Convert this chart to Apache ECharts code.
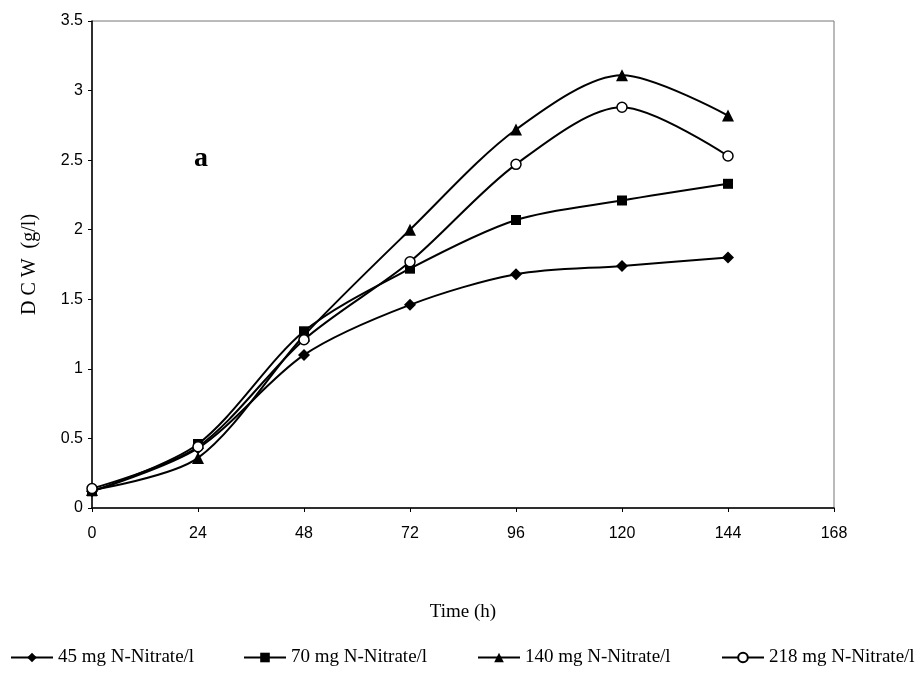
<!DOCTYPE html>
<html><head><meta charset="utf-8">
<script src="https://cdn.jsdelivr.net/npm/echarts@6/dist/echarts.min.js"></script>
<style>html,body{margin:0;padding:0;background:#fff}#c{width:920px;height:677px}</style>
</head><body><div id="c"></div>
<script>
var hours = [0, 24, 48, 72, 96, 120, 144];
var xTicks = [0, 24, 48, 72, 96, 120, 144, 168];
var yTicks = [0, 0.5, 1, 1.5, 2, 2.5, 3, 3.5];
var names = ['45 mg N-Nitrate/l', '70 mg N-Nitrate/l', '140 mg N-Nitrate/l', '218 mg N-Nitrate/l'];
var n45  = [0.12, 0.43, 1.10, 1.46, 1.68, 1.74, 1.80];
var n70  = [0.12, 0.46, 1.27, 1.72, 2.07, 2.21, 2.33];
var n140 = [0.13, 0.36, 1.24, 2.00, 2.72, 3.11, 2.82];
var n218 = [0.14, 0.44, 1.21, 1.77, 2.47, 2.88, 2.53];

function pairs(v){ return hours.map(function(h,i){ return [h, v[i]]; }); }
var sym = [
  {symbol:'diamond', size:12, fill:'#000'},
  {symbol:'rect', size:10, fill:'#000'},
  {symbol:'triangle', size:12, fill:'#000'},
  {symbol:'circle', size:10, fill:'#fff'}
];
var vals = [n45, n70, n140, n218];
var series = vals.map(function(v,i){
  return {
    name: names[i], type:'line', data: pairs(v), smooth: 0.3,
    symbol: sym[i].symbol, symbolSize: sym[i].size,
    lineStyle:{color:'#000', width:2},
    itemStyle:{color: sym[i].fill, borderColor:'#000', borderWidth: i===3?1.5:0},
    z: 3
  };
});
var legendLeft = [5, 238, 472, 716];
var legends = names.map(function(n,i){
  return {left: legendLeft[i], top: 643, itemWidth:42, itemHeight:12,
    textStyle:{fontFamily:'Liberation Serif', fontSize:19, color:'#000'},
    data:[n]};
});
var chart = echarts.init(document.getElementById('c'));
chart.setOption({
  animation:false,
  backgroundColor:'#fff',
  grid:{left:92, right:86, top:21, bottom:169, show:true, borderColor:'#777', borderWidth:1, backgroundColor:'transparent'},
  xAxis:{type:'value', min:0, max:168, interval:24,
    name:'Time (h)', nameLocation:'middle', nameGap:95,
    nameTextStyle:{fontFamily:'Liberation Serif', fontSize:19, color:'#000'},
    axisLine:{lineStyle:{color:'#000', width:1.5}},
    axisTick:{show:true, length:4, lineStyle:{color:'#000'}},
    axisLabel:{fontFamily:'Liberation Sans', fontSize:16, color:'#000', margin:18},
    splitLine:{show:false}},
  yAxis:{type:'value', min:0, max:3.5, interval:0.5,
    name:'D C W  (g/l)', nameLocation:'middle', nameGap:52,
    nameTextStyle:{fontFamily:'Liberation Serif', fontSize:20, color:'#000'},
    axisLine:{show:true, lineStyle:{color:'#000', width:1.5}},
    axisTick:{show:true, length:4, lineStyle:{color:'#000'}},
    axisLabel:{fontFamily:'Liberation Sans', fontSize:16, color:'#000', margin:9},
    splitLine:{show:false}},
  legend: legends,
  graphic:[{type:'text', left:194, top:145, style:{text:'a', font:'bold 28px "Liberation Serif"', fill:'#000'}}],
  series: series
});
</script></body></html>
